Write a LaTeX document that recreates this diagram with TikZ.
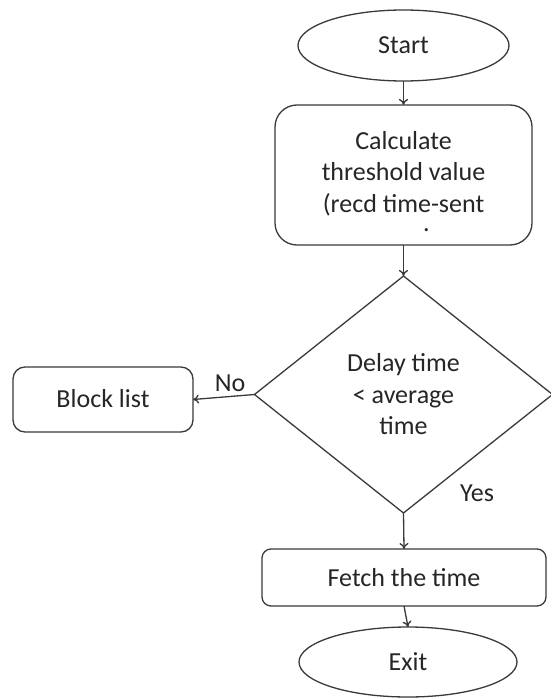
\documentclass[tikz,border=0pt]{standalone}
\usepackage{fontspec}
\setmainfont{Carlito}
\usetikzlibrary{shapes.geometric,arrows.meta}
\definecolor{linec}{HTML}{3A3A3A}
\definecolor{txtc}{HTML}{262626}
\tikzset{
  shapeline/.style={draw=linec, line width=1.3pt, fill=white, text=txtc,
    font=\fontsize{26pt}{31.5pt}\selectfont, align=center, inner sep=0pt, outer sep=0pt},
  term/.style={shapeline, ellipse},
  procbox/.style={shapeline, rectangle, rounded corners=12pt},
  decide/.style={shapeline, diamond, aspect=1.26},
  flow/.style={draw=linec, line width=1.3pt, -{To[length=6pt,width=9pt]}},
  lbl/.style={text=txtc, font=\fontsize{26pt}{31.5pt}\selectfont, inner sep=0pt},
}
\begin{document}
\begin{tikzpicture}[x=1pt,y=-1pt]
\useasboundingbox[fill=white] (0,0) rectangle (550,698);
\node[term, minimum width=211pt, minimum height=71pt] (start) at (403.5,45.5) {Start};
\node[procbox, minimum width=257pt, minimum height=140pt, rounded corners=22pt] (calc) at (403.5,175) {};
\node[lbl, align=center, anchor=north] (calctxt) at (403.5,131) {Calculate\\threshold value\\(recd time-sent\\\hspace*{46pt}\raisebox{12pt}{.}};
\node[decide, minimum width=298pt, minimum height=237pt] (dec) at (403.5,394.5) {Delay time\\{<} average\\time};
\node[procbox, minimum width=180pt, minimum height=65pt] (block) at (103,399.5) {\raisebox{3pt}{Block list}};
\node[procbox, minimum width=284pt, minimum height=57pt, rounded corners=9pt] (fetch) at (404,577.5) {Fetch the time};
\node[term, minimum width=218pt, minimum height=70pt] (exit) at (408,662) {Exit};
\node[lbl] (no) at (230,383) {No};
\node[lbl] (yes) at (477,493) {Yes};
\draw[flow] (start.south) -- (calc.north);
\draw[flow] (calc.south) -- (dec.north);
\draw[flow] (dec.west) -- (block.east);
\draw[flow] (dec.south) -- (fetch.north);
\draw[flow] (fetch.south) -- (exit.north);
\end{tikzpicture}
\end{document}
